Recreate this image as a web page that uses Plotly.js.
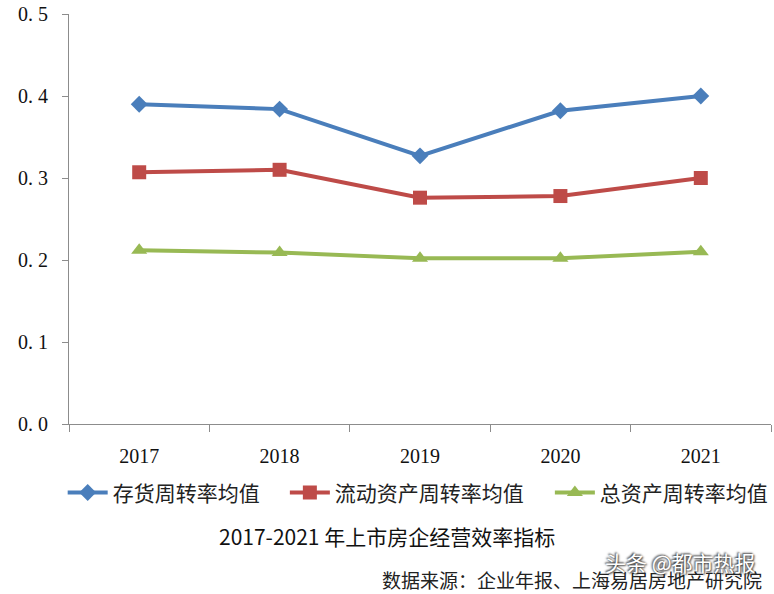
<!DOCTYPE html>
<html>
<head>
<meta charset="utf-8">
<script src="https://cdn.plot.ly/plotly-3.0.1.min.js"></script>
<style>html,body{margin:0;padding:0;background:#fff;}#chart{width:774px;height:594px;}</style>
</head>
<body>
<div id="chart"></div>
<script>
const categories = ['2017', '2018', '2019', '2020', '2021'];
const seriesNames = ['存货周转率均值', '流动资产周转率均值', '总资产周转率均值'];
const inventoryTurnover = [0.390, 0.384, 0.327, 0.382, 0.400];
const currentAssetTurnover = [0.307, 0.310, 0.276, 0.278, 0.300];
const totalAssetTurnover = [0.212, 0.209, 0.202, 0.202, 0.210];
const yTickVals = [0, 0.1, 0.2, 0.3, 0.4, 0.5];
const yTickText = ['0. 0', '0. 1', '0. 2', '0. 3', '0. 4', '0. 5'];
const chartTitle = '2017-2021 年上市房企经营效率指标';
const sourceNote = '数据来源：企业年报、上海易居房地产研究院';
const watermark = '头条 @都市热报';

const colors = ['#4A7EBB', '#BE4B48', '#98B954'];
const symbols = ['diamond', 'square', 'triangle-up'];
const sizes = [13, 14, 14];
const values = [inventoryTurnover, currentAssetTurnover, totalAssetTurnover];
const legendIds = ['legend', 'legend2', 'legend3'];
const legendX = [-0.009, 0.3075, 0.685];

const traces = values.map((v, i) => ({
  type: 'scatter',
  mode: 'lines+markers',
  x: categories,
  y: v,
  name: seriesNames[i],
  legend: legendIds[i],
  line: {color: colors[i], width: 4},
  marker: {color: colors[i], symbol: symbols[i], size: sizes[i]},
  hoverinfo: 'skip'
}));

const legendBase = (x) => ({
  orientation: 'h',
  x: x, xanchor: 'left',
  y: -0.168, yanchor: 'middle',
  font: {family: 'Noto Sans CJK SC', size: 21, color: '#222'},
  itemwidth: 40,
  bgcolor: 'rgba(0,0,0,0)'
});

const layout = {
  width: 774,
  height: 594,
  margin: {l: 69, r: 1, t: 14, b: 170},
  paper_bgcolor: '#ffffff',
  plot_bgcolor: '#ffffff',
  showlegend: true,
  legend: legendBase(legendX[0]),
  legend2: legendBase(legendX[1]),
  legend3: legendBase(legendX[2]),
  xaxis: {
    type: 'category',
    range: [-0.5, 4.5],
    showline: true,
    linecolor: '#8c8c8c',
    linewidth: 1,
    ticks: 'outside',
    tickson: 'boundaries',
    ticklen: 7,
    tickcolor: '#8c8c8c',
    showgrid: false,
    zeroline: false,
    tickfont: {family: 'Liberation Serif', size: 20, color: '#111'},
    ticklabelstandoff: 14,
    fixedrange: true
  },
  yaxis: {
    range: [0, 0.5],
    tickvals: yTickVals,
    ticktext: yTickText,
    showline: true,
    linecolor: '#8c8c8c',
    linewidth: 1,
    ticks: 'outside',
    ticklen: 6,
    tickcolor: '#8c8c8c',
    showgrid: false,
    zeroline: false,
    tickfont: {family: 'Liberation Serif', size: 20, color: '#111'},
    ticklabelstandoff: 10,
    fixedrange: true
  },
  annotations: [
    {text: chartTitle, xref: 'paper', yref: 'paper', x: 0.453, y: (424 - 536) / 410,
     xanchor: 'center', yanchor: 'middle', showarrow: false,
     font: {family: 'Noto Sans CJK SC', size: 21, color: '#111'}},
    {text: sourceNote, xref: 'paper', yref: 'paper', x: (766 - 69) / 704, y: (424 - 579) / 410,
     xanchor: 'right', yanchor: 'middle', showarrow: false,
     font: {family: 'Noto Sans CJK SC', size: 19, color: '#222'}},
    {text: watermark, xref: 'paper', yref: 'paper', x: (760 - 69) / 704, y: (424 - 562) / 410,
     xanchor: 'right', yanchor: 'middle', showarrow: false,
     font: {family: 'Noto Sans CJK SC', size: 21, color: '#ffffff',
            shadow: '1px 1px 2px #333, -1px -1px 2px #333'}}
  ]
};

Plotly.newPlot('chart', traces, layout, {staticPlot: true, displayModeBar: false});
</script>
</body>
</html>
